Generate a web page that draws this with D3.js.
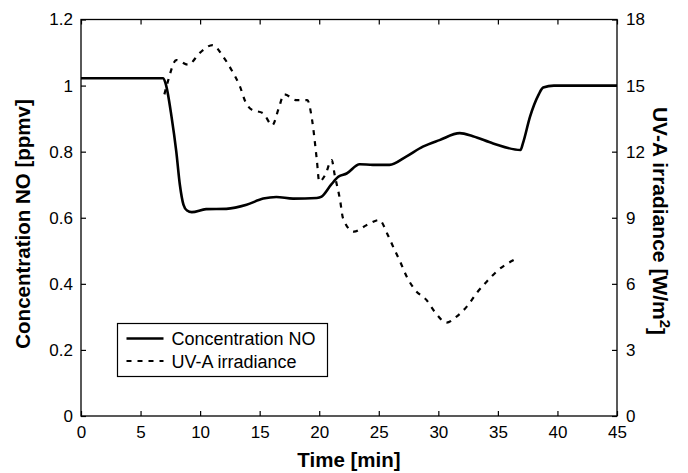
<!DOCTYPE html>
<html><head><meta charset="utf-8">
<script src="https://cdn.jsdelivr.net/npm/d3@7"></script>
<style>
body{margin:0;background:#fff}
text{font-family:Arial,"Liberation Sans",Helvetica,sans-serif}
</style>
</head><body>
<svg id="c" width="688" height="473"></svg>
<script>
// ---- data ----
const noTime  = [0, 6.9, 7.15, 7.6, 8.0, 8.3, 8.6, 8.9, 9.3, 10.5, 12.2, 13.9, 15.3, 16.4, 17.8, 19.8, 20.2, 21.0, 21.6, 22.3, 23.4, 24.5, 25.9, 27.3, 28.7, 30.1, 31.8, 32.9, 34.6, 36.9, 37.1, 37.7, 38.4, 38.8, 39.7, 45];
const noValue = [1.022, 1.022, 1.0, 0.906, 0.8, 0.70, 0.64, 0.622, 0.617, 0.626, 0.627, 0.639, 0.658, 0.663, 0.658, 0.66, 0.664, 0.7, 0.724, 0.734, 0.762, 0.76, 0.76, 0.785, 0.815, 0.835, 0.856, 0.847, 0.825, 0.805, 0.825, 0.906, 0.971, 0.994, 1.0, 1.0];

const uvTime  = [7.0, 7.3, 8.0, 9.0, 10.0, 11.05, 11.95, 12.65, 13.35, 13.8, 14.3, 15.3, 16.06, 16.6, 17.05, 18.1, 19.0, 19.4, 19.8, 20.0, 20.5, 21.05, 21.3, 21.75, 22.0, 22.9, 24.0, 25.05, 25.7, 26.2, 26.8, 27.35, 28.05, 29.0, 29.7, 30.7, 31.5, 32.5, 33.2, 34.06, 35.04, 36.4];
const uvValue = [14.6, 15.2, 16.16, 15.95, 16.5, 16.84, 16.3, 15.7, 14.95, 14.27, 13.92, 13.74, 13.2, 13.97, 14.6, 14.34, 14.34, 13.44, 11.62, 10.64, 10.94, 11.62, 10.94, 9.8, 8.97, 8.37, 8.67, 8.9, 8.29, 7.69, 7.0, 6.32, 5.72, 5.27, 4.73, 4.24, 4.5, 5.04, 5.57, 6.1, 6.63, 7.1];

const xTicks = [0, 5, 10, 15, 20, 25, 30, 35, 40, 45];
const yLeftTicks = [0, 0.2, 0.4, 0.6, 0.8, 1, 1.2];
const yRightTicks = [0, 3, 6, 9, 12, 15, 18];
const seriesNames = ["Concentration NO", "UV-A irradiance"];

// ---- layout ----
const L = 81, R = 617, T = 19.5, B = 416;
const svg = d3.select("#c");
const x = d3.scaleLinear().domain([0, 45]).range([L, R]);
const yL = d3.scaleLinear().domain([0, 1.2]).range([B, T]);
const yR = d3.scaleLinear().domain([0, 18]).range([B, T]);

const fmt = d => String(+(+d).toFixed(1));
const tickFont = "17px";

function styleAxis(g){
  g.select(".domain").remove();
  g.selectAll(".tick line").attr("stroke", "#000").attr("stroke-width", 1.2);
  g.selectAll(".tick text").attr("fill", "#000").style("font-size", tickFont).style("font-family", "Arial, 'Liberation Sans', sans-serif");
}

svg.append("g").attr("transform", `translate(0,${B})`)
  .call(d3.axisBottom(x).tickValues(xTicks).tickSize(-5).tickPadding(10).tickFormat(fmt)).call(styleAxis);
svg.append("g").attr("transform", `translate(0,${T})`)
  .call(d3.axisTop(x).tickValues(xTicks).tickSize(-5).tickFormat("")).call(styleAxis);
svg.append("g").attr("transform", `translate(${L},0)`)
  .call(d3.axisLeft(yL).tickValues(yLeftTicks).tickSize(-5).tickPadding(8).tickFormat(fmt)).call(styleAxis);
svg.append("g").attr("transform", `translate(${R},0)`)
  .call(d3.axisRight(yR).tickValues(yRightTicks).tickSize(-5).tickPadding(9).tickFormat(fmt)).call(styleAxis);

// frame
svg.append("rect").attr("x", L).attr("y", T).attr("width", R - L).attr("height", B - T)
  .attr("fill", "none").attr("stroke", "#000").attr("stroke-width", 1.3);

// lines
const noData = noTime.map((t, i) => [t, noValue[i]]);
const uvData = uvTime.map((t, i) => [t, uvValue[i]]);
svg.append("path").datum(noData)
  .attr("d", d3.line().x(d => x(d[0])).y(d => yL(d[1])).curve(d3.curveMonotoneX))
  .attr("fill", "none").attr("stroke", "#000").attr("stroke-width", 2.6).attr("stroke-linejoin", "round");
svg.append("path").datum(uvData)
  .attr("d", d3.line().x(d => x(d[0])).y(d => yR(d[1])).curve(d3.curveMonotoneX))
  .attr("fill", "none").attr("stroke", "#000").attr("stroke-width", 2.2).attr("stroke-dasharray", "5,6");

// titles
svg.append("text").attr("x", (L + R) / 2).attr("y", 467).attr("text-anchor", "middle")
  .style("font-size", "20.5px").style("font-weight", "bold").text("Time [min]");
svg.append("text").attr("transform", "translate(30,224) rotate(-90)").attr("text-anchor", "middle")
  .style("font-size", "20.5px").style("font-weight", "bold").text("Concentration NO [ppmv]");
const rt = svg.append("text").attr("transform", "translate(653,221) rotate(90)").attr("text-anchor", "middle")
  .style("font-size", "21px").style("font-weight", "bold");
rt.append("tspan").text("UV-A irradiance [W/m");
rt.append("tspan").attr("dy", "-0.45em").style("font-size", "15px").text("2");
rt.append("tspan").attr("dy", "0.45em").text("]");

// legend
const lg = svg.append("g");
lg.append("rect").attr("x", 117.5).attr("y", 323.5).attr("width", 210).attr("height", 53)
  .attr("fill", "#fff").attr("stroke", "#000").attr("stroke-width", 1.2);
const legY = [338.5, 361];
lg.selectAll("line.leg").data(seriesNames).join("line")
  .attr("x1", 126.5).attr("x2", 163.5).attr("y1", (d, i) => legY[i]).attr("y2", (d, i) => legY[i])
  .attr("stroke", "#000").attr("stroke-width", (d, i) => i ? 2.2 : 2.6)
  .attr("stroke-dasharray", (d, i) => i ? "5,6" : null);
lg.selectAll("text.leg").data(seriesNames).join("text")
  .attr("x", 171.5).attr("y", (d, i) => legY[i] + 6.5)
  .style("font-size", "18px").text(d => d);
</script>
</body></html>
